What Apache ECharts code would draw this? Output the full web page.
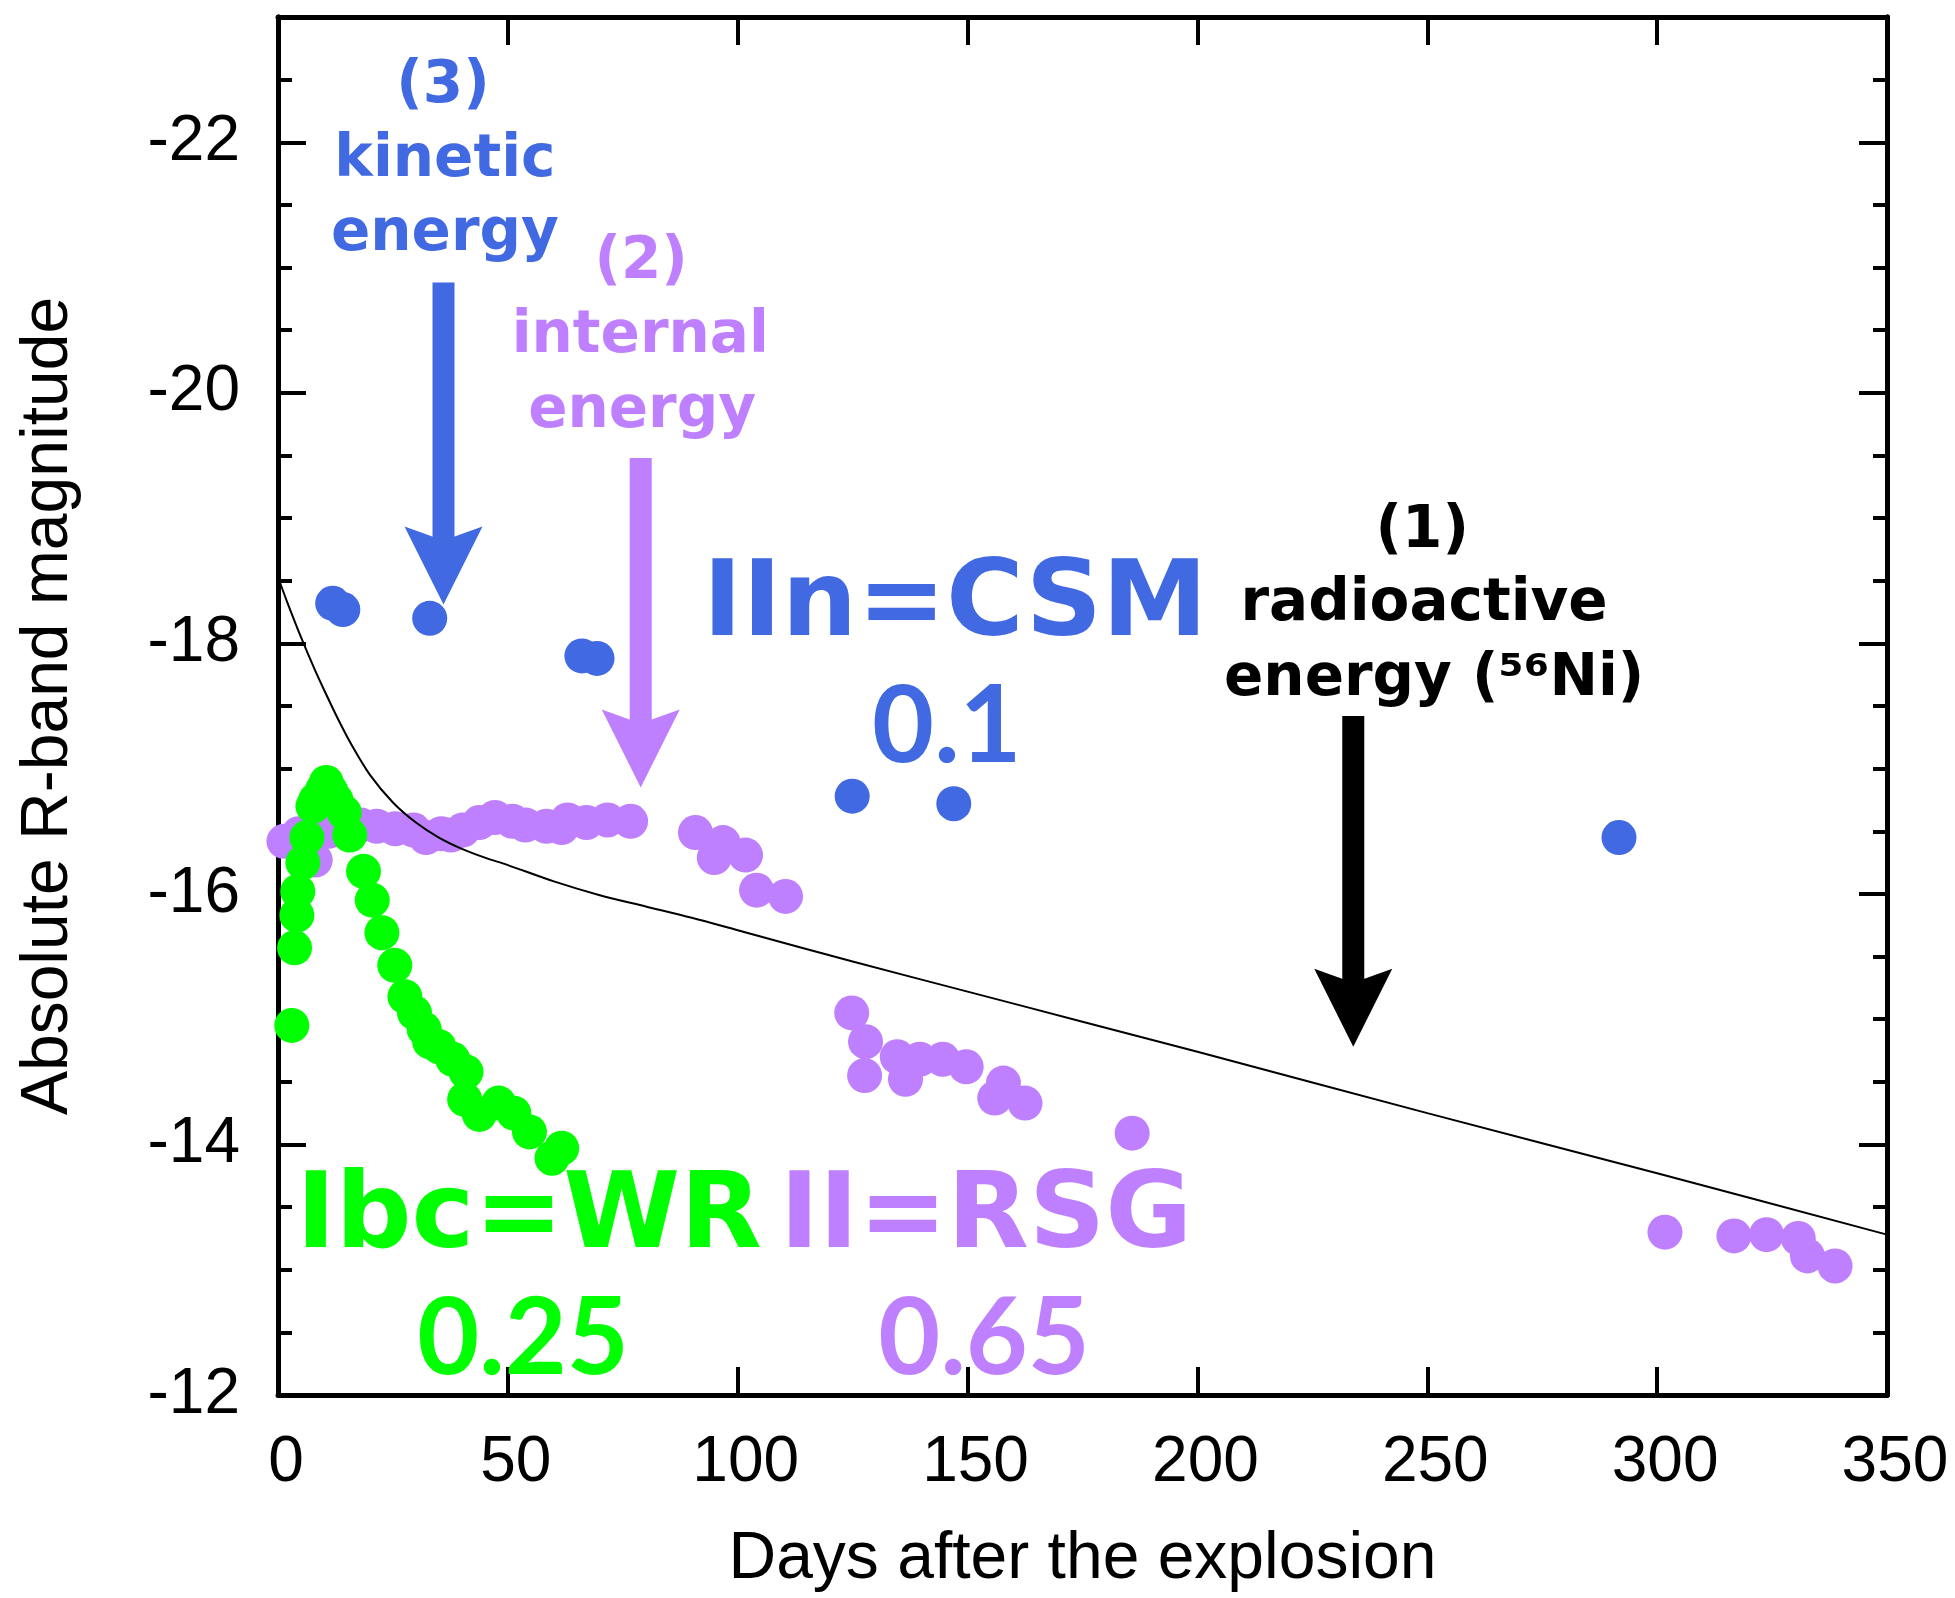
<!DOCTYPE html>
<html>
<head>
<meta charset="utf-8">
<title>Absolute R-band light curves</title>
<script src="https://cdn.jsdelivr.net/npm/echarts@6.0.0/dist/echarts.min.js"></script>
<style>
  html, body { margin: 0; padding: 0; background: #ffffff; }
  #chart { width: 1955px; height: 1598px; }
</style>
</head>
<body>
<div id="chart"></div>
<script>
// ---- light-curve data (days after explosion, absolute R magnitude) ----
const iinDays = [11.9, 14.1, 33.0, 66.1, 69.4, 124.9, 147.0, 291.7];
const iinMag  = [-18.32, -18.27, -18.20, -17.90, -17.88, -16.78, -16.72, -16.45];

const iiDays = [1.3, 4.5, 8.1, 11.0, 14.5, 18.0, 21.5, 25.5, 29.5, 32.2, 35.5, 37.6, 40.2, 43.8, 47.2, 51.0, 53.8, 58.4, 61.7, 63.0, 67.1, 71.7, 76.7,
                90.8, 94.9, 96.8, 101.7, 104.1, 110.4,
                124.8, 127.8, 127.6, 134.7, 136.5, 139.6, 144.6, 149.7, 157.8, 155.9, 162.5, 185.8,
                301.7, 316.7, 323.8, 330.7, 332.7, 338.7];
const iiMag  = [-16.42, -16.48, -16.27, -16.50, -16.52, -16.55, -16.54, -16.52, -16.51, -16.45, -16.48, -16.47, -16.51, -16.57, -16.61, -16.58, -16.55, -16.54, -16.53, -16.59, -16.57, -16.59, -16.58,
                -16.49, -16.29, -16.41, -16.31, -16.03, -15.98,
                -15.05, -14.82, -14.55, -14.70, -14.52, -14.68, -14.68, -14.62, -14.49, -14.37, -14.33, -14.09,
                -13.30, -13.27, -13.28, -13.25, -13.11, -13.03];

const ibcDays = [3.0, 3.6, 4.1, 4.3, 5.4, 6.3, 7.6, 8.2, 9.7, 10.5, 11.5, 12.6, 14.4, 15.6, 18.6, 20.5, 22.6, 25.4, 27.6, 29.7, 31.8, 33.0, 35.0,
                 38.0, 40.9, 40.6, 43.8, 48.0, 51.3, 54.7, 59.6, 61.7];
const ibcMag  = [-14.95, -15.57, -15.83, -16.02, -16.25, -16.45, -16.70, -16.75, -16.83, -16.89, -16.82, -16.75, -16.65, -16.47, -16.18, -15.95, -15.69, -15.43, -15.18, -15.05, -14.92, -14.82, -14.78,
                 -14.68, -14.58, -14.36, -14.24, -14.33, -14.25, -14.10, -13.89, -13.97];

// 56Ni / 56Co powered model light curve
const niDays = [0, 2, 5, 8, 10, 13, 16, 20, 25, 30, 35, 40, 45, 50, 60, 70, 80, 90, 100, 125, 150, 175, 200, 250, 300, 350];
const niMag  = [-18.53, -18.33, -18.05, -17.79, -17.63, -17.40, -17.19, -16.95, -16.73, -16.57, -16.45, -16.36, -16.29, -16.23, -16.10, -15.99, -15.90, -15.81, -15.71, -15.46, -15.22, -14.98, -14.74, -14.25, -13.77, -13.28];

// arrows: day, magnitude at tail, magnitude at tip
const arrowDay  = [36.0, 78.9, 233.9];
const arrowFrom = [-20.88, -19.48, -17.42];
const arrowTip  = [-18.31, -16.85, -14.78];

// annotation texts and their anchors (days, magnitude)
const noteText = ['(3)', 'kinetic', 'energy', '(2)', 'internal', 'energy', '(1)', 'radioactive', 'energy (\u2075\u2076Ni)',
                  'IIn=CSM', '0.1', 'Ibc=WR', '0.25', 'II=RSG', '0.65'];
const noteDay  = [35.9, 36.3, 36.3, 79.0, 78.8, 79.2, 248.9, 249.3, 251.5, 147.3, 145.5, 54.6, 53.3, 154.0, 153.6];
const noteMag  = [-22.44, -21.85, -21.26, -21.04, -20.45, -19.85, -18.89, -18.31, -17.71, -18.29, -17.33, -13.40, -12.44, -13.40, -12.44];

// axis ticks
const xTicks = [0, 50, 100, 150, 200, 250, 300, 350];
const yMajorTicks = [-22, -20, -18, -16, -14, -12];
const yMinorTicks = [-22.5, -21.5, -21, -20.5, -19.5, -19, -18.5, -17.5, -17, -16.5, -15.5, -15, -14.5, -13.5, -13, -12.5];

// ---- styling ----
const BLUE = '#4169E1', PURPLE = '#BF80FF', GREEN = '#00FF00', BLACK = '#000000';
const noteColor = [BLUE, BLUE, BLUE, PURPLE, PURPLE, PURPLE, BLACK, BLACK, BLACK, BLUE, BLUE, GREEN, GREEN, PURPLE, PURPLE];
const noteKind  = ['s', 's', 's', 's', 's', 's', 's', 's', 's', 'b', 'n', 'b', 'n', 'b', 'n'];
const noteFont = {
  s: 'bold 58px "DejaVu Sans", sans-serif',
  b: 'bold 106px "DejaVu Sans", sans-serif',
  n: 'bold 107px Lato, "DejaVu Sans", sans-serif'
};
const arrowColor = [BLUE, PURPLE, BLACK];

const AXIS_FONT = '"Liberation Sans", Arial, Helvetica, sans-serif';
const zip = (a, b) => a.map((v, i) => [v, b[i]]);

const lineStyle = { color: BLACK, width: 5 };
function xAxisDef(pos, withLabels) {
  return {
    type: 'value', position: pos, min: 0, max: 350, interval: 50,
    axisLine: { show: true, onZero: false, lineStyle },
    axisTick: { show: true, inside: true, length: 28, lineStyle: { color: BLACK, width: 4 } },
    axisLabel: withLabels ? { show: true, color: BLACK, fontSize: 64, fontFamily: AXIS_FONT, margin: 36, padding: [0, 0, 0, 16],
      customValues: xTicks } : { show: false },
    splitLine: { show: false },
    name: withLabels ? 'Days after the explosion' : '',
    nameLocation: 'middle', nameGap: 132,
    nameTextStyle: { color: BLACK, fontSize: 66, fontFamily: AXIS_FONT }
  };
}
function yAxisDef(pos, ticks, len, withLabels) {
  return {
    type: 'value', position: pos, min: -23, max: -12, inverse: true,
    axisLine: { show: true, onZero: false, lineStyle },
    axisTick: { show: true, inside: true, length: len, customValues: ticks, lineStyle: { color: BLACK, width: 4 } },
    axisLabel: withLabels ? { show: true, color: BLACK, fontSize: 64, fontFamily: AXIS_FONT, margin: 38,
      customValues: ticks } : { show: false },
    splitLine: { show: false },
    name: withLabels ? 'Absolute R-band magnitude' : '',
    nameLocation: 'middle', nameGap: 196, nameRotate: 90,
    nameTextStyle: { color: BLACK, fontSize: 66, fontFamily: AXIS_FONT }
  };
}

const chart = echarts.init(document.getElementById('chart'), null, { renderer: 'canvas' });
chart.setOption({
  backgroundColor: '#ffffff',
  animation: false,
  grid: { left: 278, right: 68, top: 17, bottom: 203, containLabel: false },
  xAxis: [xAxisDef('bottom', true), xAxisDef('top', false)],
  yAxis: [
    yAxisDef('left', yMajorTicks, 28, true),
    yAxisDef('left', yMinorTicks, 14, false),
    yAxisDef('right', yMajorTicks, 28, false),
    yAxisDef('right', yMinorTicks, 14, false)
  ],
  series: [
    {
      name: 'II', type: 'scatter', z: 2, symbol: 'circle', symbolSize: 35,
      itemStyle: { color: PURPLE, opacity: 1 },
      data: zip(iiDays, iiMag)
    },
    {
      name: 'Ibc', type: 'scatter', z: 3, symbol: 'circle', symbolSize: 35,
      itemStyle: { color: GREEN, opacity: 1 },
      data: zip(ibcDays, ibcMag)
    },
    {
      name: 'IIn', type: 'scatter', z: 3, symbol: 'circle', symbolSize: 35,
      itemStyle: { color: BLUE, opacity: 1 },
      data: zip(iinDays, iinMag)
    },
    {
      name: '56Ni', type: 'line', z: 4, smooth: 0.3, showSymbol: false, symbol: 'none',
      lineStyle: { color: BLACK, width: 2 },
      data: zip(niDays, niMag)
    },
    {
      name: 'arrows', type: 'custom', z: 5,
      data: arrowDay.map((d, i) => [d, arrowFrom[i], arrowTip[i]]),
      encode: { x: 0, y: [1, 2] },
      renderItem(params, api) {
        const tail = api.coord([api.value(0), api.value(1)]);
        const tip = api.coord([api.value(0), api.value(2)]);
        const color = arrowColor[params.dataIndex];
        const headH = 78, headW = 78, notch = 14, shaftW = 22;
        const baseY = tip[1] - headH + notch;
        return {
          type: 'group',
          children: [
            { type: 'rect', shape: { x: tail[0] - shaftW / 2, y: tail[1], width: shaftW, height: baseY + 2 - tail[1] },
              style: { fill: color } },
            { type: 'polygon',
              shape: { points: [[tip[0], tip[1]], [tip[0] - headW / 2, tip[1] - headH], [tip[0], baseY], [tip[0] + headW / 2, tip[1] - headH]] },
              style: { fill: color } }
          ]
        };
      }
    },
    {
      name: 'notes', type: 'custom', z: 6,
      data: noteDay.map((d, i) => [d, noteMag[i]]),
      renderItem(params, api) {
        const p = api.coord([api.value(0), api.value(1)]);
        const i = params.dataIndex;
        return {
          type: 'text', x: p[0], y: p[1],
          style: {
            text: noteText[i], fill: noteColor[i], font: noteFont[noteKind[i]],
            align: 'center', verticalAlign: 'middle'
          }
        };
      }
    }
  ]
});
</script>
</body>
</html>
